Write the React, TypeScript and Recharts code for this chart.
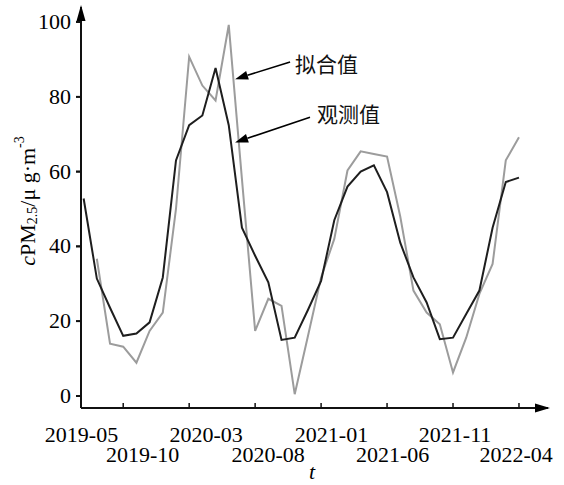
import React from 'react';
import { LineChart, Line, XAxis, YAxis, ReferenceLine, ReferenceDot } from 'recharts';

// month index of each observation (2019-05 .. 2022-04)
const monthIdx = [0, 1, 2, 3, 4, 5, 6, 7, 8, 9, 10, 11, 12, 13, 14, 15, 16, 17, 18, 19, 20, 21, 22, 23, 24, 25, 26, 27, 28, 29, 30, 31, 32, 33];

// 观测值 (black)
const observed = [52.8, 31.4, 23.6, 16.1, 16.7, 19.7, 31.7, 63, 72.4, 75, 87.7, 72.4, 45, 37.5, 30.4, 15, 15.6, 23, 30.8, 47, 56, 60, 61.7, 54.5, 41, 31.7, 25, 15.2, 15.6, 21.9, 28.2, 45, 57.2, 58.4];

// 拟合值 (gray)
const fitted = [null, 36.7, 14, 13.2, 8.9, 17.4, 22.3, 50, 90.7, 83, 79, 99.2, 58, 17.4, 26, 24.1, 0.5, 16, 31.7, 42, 60.3, 65.4, 64.7, 64, 48, 28.2, 22.3, 19.2, 6.3, 15.6, 27.3, 35.3, 63, 69.2];

const xLabels = ['2019-05', '2019-10', '2020-03', '2020-08', '2021-01', '2021-06', '2021-11', '2022-04'];
const xLabelPos = [-0.16, 4.47, 9.28, 13.98, 18.79, 23.42, 28.16, 32.78];
const xTickPos = [3, 8, 13, 18, 23, 28, 33];
const yTicks = [0, 20, 40, 60, 80, 100];

const xDomain = [-0.2, 35.2];
const yDomain = [-3.2, 104];
const xTickLen = 1.34; // inward x tick length, in y units

// annotations: [start, tip]
const fitArrow = [{ x: 15.65, y: 89.3 }, { x: 11.48, y: 84.7 }];
const obsArrow = [{ x: 17.16, y: 74.5 }, { x: 11.48, y: 67.8 }];

const data = monthIdx.map((m, k) => ({ m, obs: observed[k], fit: fitted[k] }));

const CHART_H = 485;
const XAXIS_H = 77;

const SERIF = '"Liberation Serif", "Times New Roman", serif';
const CJK = '"Noto Sans CJK SC", sans-serif';
const AXIS = '#111';

const arrowShape = (label: string, dx: number, dy: number) => (props: any) => {
  const { x1, y1, x2, y2 } = props;
  if (x1 == null) return null;
  const ang = Math.atan2(y2 - y1, x2 - x1);
  const L = 13;
  const W = 4.5;
  const bx = x2 - L * Math.cos(ang);
  const by = y2 - L * Math.sin(ang);
  const px = -Math.sin(ang) * W;
  const py = Math.cos(ang) * W;
  return (
    <g>
      <line x1={x1} y1={y1} x2={bx} y2={by} stroke="#000" strokeWidth={1.6} />
      <polygon points={`${x2},${y2} ${bx + px},${by + py} ${bx - px},${by - py}`} fill="#000" />
      <text x={x1 + dx} y={y1 + dy} fontFamily={CJK} fontSize={21} fill="#111" dominantBaseline="central">
        {label}
      </text>
    </g>
  );
};

const XTick = (props: any) => {
  const { x, y, index } = props;
  return (
    <text x={x} y={y + (index % 2 === 0 ? 34 : 54)} textAnchor="middle" fontFamily={SERIF} fontSize={22} fill="#000">
      {xLabels[index]}
    </text>
  );
};

const YTick = (props: any) => {
  const { x, y, payload } = props;
  return (
    <text x={x} y={y} dy={7} textAnchor="end" fontFamily={SERIF} fontSize={22} fill="#000">
      {payload.value}
    </text>
  );
};

const TLabel = () => (
  <text x={312} y={479} textAnchor="middle" fontFamily={SERIF} fontSize={22} fontStyle="italic" fill="#000">
    t
  </text>
);

// y-axis title, plus the y-axis line and its outward tick marks (drawn from the axis viewBox)
const YAxisDecor = (props: any) => {
  const vb = props.viewBox || { x: 0, y: 7, width: 81, height: 401 };
  const ax = vb.x + vb.width;
  const span = yDomain[1] - yDomain[0];
  const toPx = (v: number) => vb.y + ((yDomain[1] - v) / span) * vb.height;
  return (
    <g>
      <line x1={ax} y1={vb.y + 10} x2={ax} y2={vb.y + vb.height} stroke={AXIS} strokeWidth={1.8} />
      {yTicks.map((v) => (
        <line key={v} x1={ax - 5} y1={toPx(v)} x2={ax} y2={toPx(v)} stroke={AXIS} strokeWidth={1.5} />
      ))}
      <text
        transform="translate(27,201) rotate(-90)"
        textAnchor="middle"
        dominantBaseline="central"
        fontFamily={SERIF}
        fontSize={22}
        fill="#000"
      >
        <tspan fontStyle="italic">c</tspan>
        <tspan>PM</tspan>
        <tspan fontSize={14} dy={5}>2.5</tspan>
        <tspan dy={-5}>/μ g·m</tspan>
        <tspan fontSize={14} dy={-8}>-3</tspan>
      </text>
    </g>
  );
};

const RightArrow = (props: any) => {
  const { cx, cy } = props;
  return <polygon points={`${cx + 2},${cy} ${cx - 13},${cy - 4.5} ${cx - 13},${cy + 4.5}`} fill="#000" />;
};
const UpArrow = (props: any) => {
  const { cx, cy } = props;
  return (
    <g>
      <line x1={cx} y1={cy + 10} x2={cx} y2={CHART_H - XAXIS_H} stroke={AXIS} strokeWidth={1.8} />
      <polygon points={`${cx},${cy - 2} ${cx - 4.5},${cy + 14} ${cx + 4.5},${cy + 14}`} fill="#000" />
    </g>
  );
};
const YTickMark = (props: any) => {
  const { cx, cy } = props;
  return <line x1={cx - 5} y1={cy} x2={cx} y2={cy} stroke={AXIS} strokeWidth={1.5} />;
};

export default function App() {
  return (
    <div style={{ position: 'absolute', left: 0, top: 0, background: '#fff' }}>
      <LineChart width={564} height={CHART_H} data={data} margin={{ top: 7, right: 16, bottom: 0, left: 0 }}>
        <XAxis
          xAxisId="a"
          dataKey="m"
          type="number"
          domain={xDomain}
          allowDataOverflow
          ticks={xLabelPos}
          tickSize={0}
          tickMargin={0}
          tickLine={false}
          tick={<XTick />}
          height={XAXIS_H}
          stroke={AXIS}
          strokeWidth={1.8}
          label={<TLabel />}
        />
        <YAxis
          yAxisId="y"
          type="number"
          domain={yDomain}
          allowDataOverflow
          ticks={yTicks}
          width={81}
          stroke={AXIS}
          strokeWidth={1.8}
          tickSize={5}
          tickMargin={5}
          tick={<YTick />}
          label={<YAxisDecor />}
        />
        {xTickPos.map((t) => (
          <ReferenceLine
            key={t}
            xAxisId="a"
            yAxisId="y"
            segment={[{ x: t, y: yDomain[0] }, { x: t, y: yDomain[0] + xTickLen }]}
            ifOverflow="visible"
            stroke={AXIS}
            strokeWidth={1.5}
          />
        ))}
        <Line
          xAxisId="a"
          yAxisId="y"
          dataKey="fit"
          stroke="#9c9c9c"
          strokeWidth={2}
          dot={false}
          isAnimationActive={false}
        />
        <Line xAxisId="a" yAxisId="y" dataKey="obs" stroke="#1e1e1e" strokeWidth={2} dot={false} isAnimationActive={false} />
        <ReferenceLine xAxisId="a" yAxisId="y" segment={fitArrow} ifOverflow="visible" shape={arrowShape('拟合值', 5, 1)} />
        <ReferenceLine xAxisId="a" yAxisId="y" segment={obsArrow} ifOverflow="visible" shape={arrowShape('观测值', 7, -4)} />
        <ReferenceDot xAxisId="a" yAxisId="y" x={xDomain[1]} y={yDomain[0]} ifOverflow="visible" shape={<RightArrow />} />
        <ReferenceDot xAxisId="a" yAxisId="y" x={xDomain[0]} y={yDomain[1]} ifOverflow="visible" shape={<UpArrow />} />
        {yTicks.map((v) => (
          <ReferenceDot key={v} xAxisId="a" yAxisId="y" x={xDomain[0]} y={v} ifOverflow="visible" shape={<YTickMark />} />
        ))}
      </LineChart>
    </div>
  );
}
